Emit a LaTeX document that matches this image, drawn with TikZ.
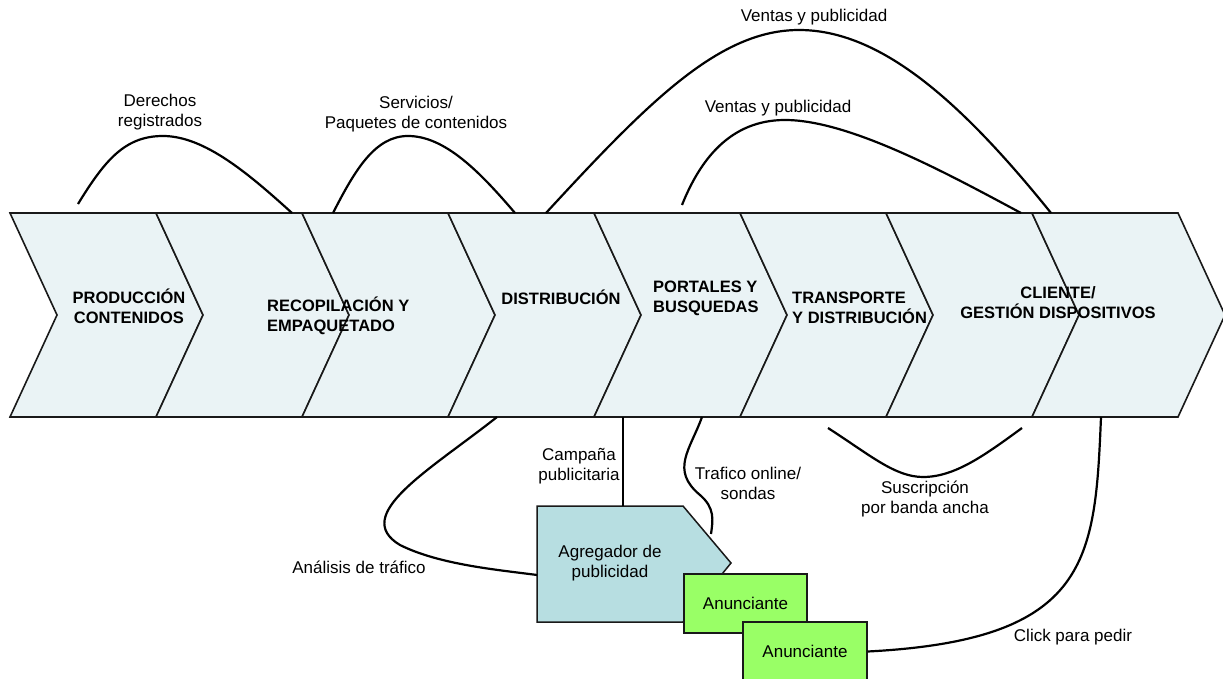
\documentclass[tikz,border=0pt]{standalone}
\usepackage{fontspec}
\setmainfont{Liberation Sans}
\usepackage{xcolor}
\usetikzlibrary{positioning}

\definecolor{chevfill}{HTML}{EAF3F5}
\definecolor{aggfill}{HTML}{B7DEE1}
\definecolor{advfill}{HTML}{99FF66}

\begin{document}
\begin{tikzpicture}[
		x=1pt, y=-1pt,
		every node/.style={font=\fontsize{17}{20}\selectfont, inner sep=0pt},
		chevron/.style={
				draw=black!90,
				line width=1.6pt,
				fill=chevfill,
				line join=miter
			},
		stage/.style={font=\fontsize{16.5}{20}\selectfont\bfseries},
		flow/.style={line width=2.2pt},
		aggshape/.style={draw=black!90, line width=1.5pt, fill=aggfill},
		adbox/.style={
				draw=black!90,
				line width=1.5pt,
				fill=advfill,
				minimum width=123pt,
				minimum height=59pt
			}
	]
	\path[use as bounding box, clip] (0,0) rectangle (1223,679);

	% Value chain - chevrons
	\foreach \x in {10,156,302,448,594,740,886,1032} {
			\draw[chevron] (\x,213) -- ++(146,0) -- ++(47,102) -- ++(-47,102) -- ++(-146,0) -- ++(47,-102) -- cycle;
		}

	% Stage labels
	\node[stage, align=center] (prod) at (129,306.5) {PRODUCCIÓN\\CONTENIDOS};
	\node[stage, align=left, anchor=west] (recop) at (267,315.5) {RECOPILACIÓN Y\\EMPAQUETADO};
	\node[stage, anchor=base] (distr) at (561,304) {DISTRIBUCIÓN};
	\node[stage, align=left, anchor=west] (portal) at (653,298) {PORTALES Y\\BUSQUEDAS};
	\node[stage, align=left, anchor=west] (transp) at (792,308) {TRANSPORTE\\Y DISTRIBUCIÓN};
	\node[stage, align=center] (client) at (1058,303) {CLIENTE/\\GESTIÓN DISPOSITIVOS};

	% Advertising boxes
	\draw[aggshape] (537,506) coordinate (agg-nw) -- (683,506) -- (731,563) coordinate (agg-tip) -- (683,622) -- (537,622) coordinate (agg-sw) -- cycle;
	\node[align=center] (agg) at (610,562.7) {Agregador de\\publicidad};
	\node[adbox, text depth=1pt] (anun1) at (745.5,603.5) {Anunciante};
	\node[adbox, text depth=1pt, minimum width=124pt] (anun2) at (805,651.5) {Anunciante};

	% Flow end points
	\coordinate (der-a) at (78,204);
	\coordinate (der-b) at (292,213);
	\coordinate (serv-a) at (333,213);
	\coordinate (serv-b) at (515,213);
	\coordinate (vent-a) at (546,213);
	\coordinate (vent-b) at (1051,213);
	\coordinate (vent2-a) at (682,205);
	\coordinate (vent2-b) at (1021,213);
	\coordinate (anal-a) at (497,417);
	\coordinate (anal-b) at (537,575);
	\coordinate (camp-a) at (623,417);
	\coordinate (traf-a) at (702,417);
	\coordinate (traf-b) at (711,534);
	\coordinate (susc-a) at (828,428);
	\coordinate (susc-b) at (1022,428);
	\coordinate (click-a) at (1101,417);

	% Flows above the chain
	\draw[flow] (der-a) .. controls (105,160) and (125,136) .. (163,136) .. controls (205,136) and (250,175) .. (der-b);
	\draw[flow] (serv-a) .. controls (355,170) and (375,136) .. (408,136) .. controls (445,136) and (480,172) .. (serv-b);
	\draw[flow] (vent-a) .. controls (650,100) and (720,30) .. (799,30) .. controls (880,30) and (960,100) .. (vent-b);
	\draw[flow] (vent2-a) .. controls (700,160) and (730,120) .. (785,120) .. controls (850,120) and (950,175) .. (vent2-b);

	% Flows below the chain
	\draw[flow] (anal-a) .. controls (430,470) and (350,515) .. (400,545) .. controls (440,565) and (500,570) .. (anal-b);
	\draw[flow] (camp-a) -- (camp-a |- agg-nw);
	\draw[flow] (traf-a) .. controls (690,450) and (670,470) .. (700,495) .. controls (715,508) and (713,520) .. (traf-b);
	\draw[flow] (susc-a) .. controls (870,455) and (895,477) .. (923,477) .. controls (955,477) and (985,455) .. (susc-b);
	\draw[flow] (click-a) .. controls (1095,560) and (1090,640) .. (anun2.east);

	% Flow labels
	\node[align=center] (lbl-derechos) at (160,112.5) {Derechos\\registrados};
	\node[align=center] (lbl-servicios) at (416,114.5) {Servicios/\\Paquetes de contenidos};
	\node[anchor=base] (lbl-ventas1) at (814,22) {Ventas y publicidad};
	\node[anchor=base] (lbl-ventas2) at (778,113) {Ventas y publicidad};
	\node[align=center] (lbl-campana) at (579,465.7) {Campaña\\publicitaria};
	\node[align=center] (lbl-trafico) at (748,483.7) {Trafico online/\\sondas};
	\node[anchor=base] (lbl-analisis) at (359,573) {Análisis de tráfico};
	\node[align=center] (lbl-suscripcion) at (925,498.7) {Suscripción\\por banda ancha};
	\node[anchor=base] (lbl-click) at (1073,641) {Click para pedir};
\end{tikzpicture}
\end{document}
